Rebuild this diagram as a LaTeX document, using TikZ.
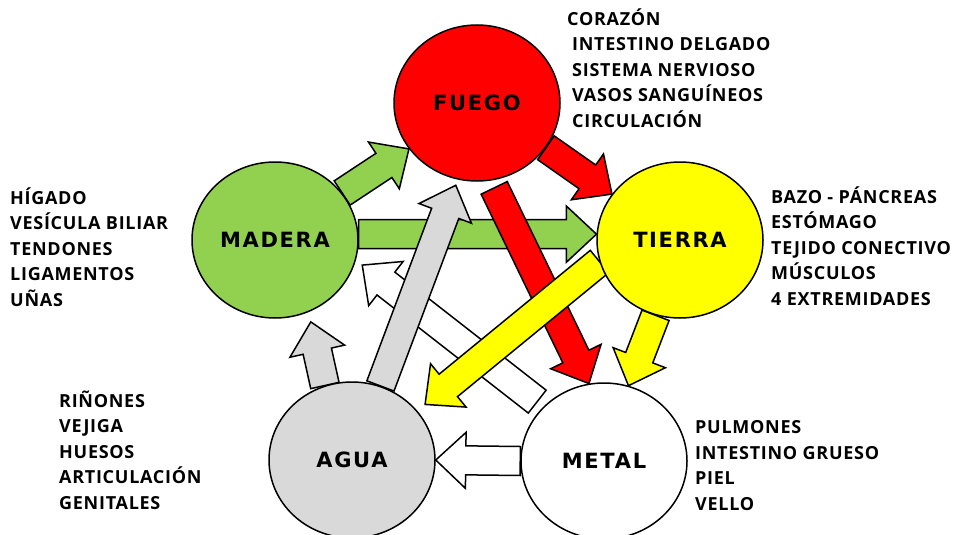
\documentclass[tikz,border=0pt]{standalone}
\usepackage{fontspec}
\setmainfont{Open Sans}[LetterSpace=4]
\newfontfamily\elemfont{DejaVu Sans}[LetterSpace=8]
\usetikzlibrary{calc,backgrounds,shapes.geometric}

\definecolor{fuegored}{RGB}{255,0,0}
\definecolor{maderagreen}{RGB}{146,208,80}
\definecolor{tierrayellow}{RGB}{255,255,0}
\definecolor{aguagray}{RGB}{217,217,217}

% fat block arrow from #2 to #3
\newcommand{\fatarrow}[3][]{%
  \coordinate (fa-s) at (#2);
  \coordinate (fa-t) at (#3);
  \coordinate (fa-b) at ($(fa-t)!30pt!(fa-s)$);
  \draw[blockarr,#1] ($(fa-s)!14.5pt!90:(fa-t)$) -- ($(fa-b)!14.5pt!90:(fa-t)$)
    -- ($(fa-b)!28pt!90:(fa-t)$) -- (fa-t) -- ($(fa-b)!28pt!-90:(fa-t)$)
    -- ($(fa-b)!14.5pt!-90:(fa-t)$) -- ($(fa-s)!14.5pt!-90:(fa-t)$) -- cycle;}

\begin{document}
\begin{tikzpicture}[x=1pt, y=-1pt,
  element/.style={draw, ellipse, line width=1.5pt, minimum width=166pt, minimum height=156pt, inner sep=0pt, font=\elemfont\bfseries\fontsize{21}{24}\selectfont},
  organs/.style={align=left, inner sep=0pt, anchor=base west, font=\bfseries\fontsize{18}{25.5}\selectfont},
  blockarr/.style={draw, line width=1.5pt, line join=miter}]
\useasboundingbox (0,0) rectangle (956,535);

\node[element, fill=fuegored] (fuego) at (477,103) {FUEGO};
\node[element, fill=maderagreen] (madera) at (275,240) {MADERA};
\node[element, fill=tierrayellow] (tierra) at (680,240) {TIERRA};
\node[element, fill=aguagray] (agua) at (352,460) {AGUA};
\node[element, fill=white] (metal) at (604,461) {METAL};

% organ lists, placed by the baseline of their last line
\node[organs] (fuego-txt) at (567,127) {CORAZÓN\\\hspace*{5pt}INTESTINO DELGADO\\\hspace*{5pt}SISTEMA NERVIOSO\\\hspace*{5pt}VASOS SANGUÍNEOS\\\hspace*{5pt}CIRCULACIÓN};
\node[organs] (madera-txt) at (10,306) {HÍGADO\\VESÍCULA BILIAR\\TENDONES\\LIGAMENTOS\\UÑAS};
\node[organs] (tierra-txt) at (771,305) {BAZO - PÁNCREAS\\ESTÓMAGO\\TEJIDO CONECTIVO\\MÚSCULOS\\4 EXTREMIDADES};
\node[organs] (agua-txt) at (59,509) {RIÑONES\\VEJIGA\\HUESOS\\ARTICULACIÓN\\GENITALES};
\node[organs] (metal-txt) at (695,510) {PULMONES\\INTESTINO GRUESO\\PIEL\\VELLO};

\begin{pgfonlayer}{background}
\fatarrow[fill=maderagreen]{madera.35}{fuego.214}
\fatarrow[fill=fuegored]{fuego.-33}{tierra.146}
\fatarrow[fill=tierrayellow]{tierra.-108}{metal.72}
\fatarrow[fill=white]{metal.180}{agua.0}
\fatarrow[fill=aguagray]{agua.110}{$(madera.-65)!10pt!(agua.110)$}
\fatarrow[fill=maderagreen]{madera.4}{tierra.176}
\fatarrow[fill=white]{$(metal.138)!8pt!(madera.-14)$}{$(madera.-14)!8pt!(metal.138)$}
\fatarrow[fill=aguagray]{agua.69}{$(fuego.256)!6pt!(agua.69)$}
\fatarrow[fill=fuegored]{$(fuego.-80)!8pt!(metal.101)$}{metal.101}
\fatarrow[fill=tierrayellow]{tierra.195}{$(agua.37)!10pt!(tierra.195)$}
\end{pgfonlayer}
\end{tikzpicture}
\end{document}
